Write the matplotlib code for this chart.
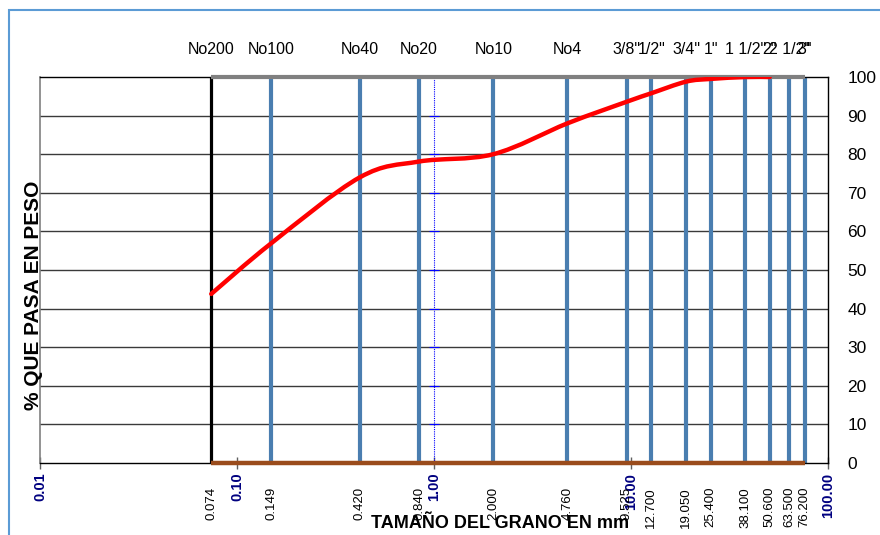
import numpy as np
import matplotlib
matplotlib.use("Agg")
import matplotlib.pyplot as plt
from matplotlib.path import Path
from matplotlib.patches import PathPatch, Rectangle
from matplotlib.transforms import blended_transform_factory

plt.rcParams['font.family'] = ['Liberation Sans', 'DejaVu Sans']

# ---- data ----
sieve_names = ['No200', 'No100', 'No40', 'No20', 'No10', 'No4', '3/8"', '1/2"',
               '3/4"', '1"', '1 1/2"', '2"', '2 1/2"', '3"']
sieve_sizes = [0.074, 0.149, 0.420, 0.840, 2.000, 4.760, 9.525, 12.700,
               19.050, 25.400, 38.100, 50.600, 63.500, 76.200]
size_labels = ['0.074', '0.149', '0.420', '0.840', '2.000', '4.760', '9.525', '12.700',
               '19.050', '25.400', '38.100', '50.600', '63.500', '76.200']
curve_sizes = [0.074, 0.149, 0.420, 0.840, 2.000, 4.760, 9.525, 12.700,
               19.050, 25.400, 38.100, 50.600]
pct_passing = [43.8, 56.9, 74.0, 78.1, 80.0, 88.0, 93.6, 95.8,
               98.8, 99.5, 100.0, 100.0]
main_ticks = [0.01, 0.1, 1.0, 10.0, 100.0]
main_tick_labels = ['0.01', '0.10', '1.00', '10.00', '100.00']
y_ticks = [0, 10, 20, 30, 40, 50, 60, 70, 80, 90, 100]
ref_x = 1.0

W, H = 880, 535
fig = plt.figure(figsize=(W / 100, H / 100), dpi=100)
ax = fig.add_axes([40 / W, 1 - 463 / H, (828 - 40) / W, (463 - 77) / H])
ax.set_xscale('log')
ax.set_xlim(main_ticks[0], main_ticks[-1])
ax.set_ylim(y_ticks[0], y_ticks[-1])
ax.minorticks_off()

# horizontal gridlines
for yv in y_ticks[1:-1]:
    ax.axhline(yv, color='#3a3a3a', lw=1.0, zorder=1)

# blue sieve lines
for s in sieve_sizes[1:]:
    ax.axvline(s, color='#4A7EB0', lw=3.0, zorder=2)
# black No200 line
ax.axvline(sieve_sizes[0], color='black', lw=2.3, zorder=3)

# reference dotted line at 1.00
ax.plot([ref_x] * len(y_ticks), y_ticks, color='blue', ls=(0, (1, 1)), lw=0.8,
        marker='_', ms=7, mew=0.8, zorder=3, clip_on=False)

# top gray and bottom brown lines
ax.plot([sieve_sizes[0], sieve_sizes[-1]], [y_ticks[-1]] * 2, color='#808080', lw=3,
        solid_capstyle='butt', zorder=4, clip_on=False)
ax.plot([sieve_sizes[0], sieve_sizes[-1]], [y_ticks[0]] * 2, color='#9A4C1C', lw=3.2,
        solid_capstyle='butt', zorder=6, clip_on=False)

# smooth curve (Bezier through the points, in log-x space)
u = np.log10(curve_sizes)
v = np.array(pct_passing)
P = np.column_stack([u, v])
n = len(P)
verts = [P[0]]
codes = [Path.MOVETO]
for i in range(n - 1):
    p0 = P[i - 1] if i > 0 else P[i]
    p1 = P[i]
    p2 = P[i + 1]
    p3 = P[i + 2] if i + 2 < n else P[i + 1]
    c1 = p1 + (p2 - p0) / 6.0
    c2 = p2 - (p3 - p1) / 6.0
    verts += [c1, c2, p2]
    codes += [Path.CURVE4] * 3
verts = np.array(verts)
verts[:, 0] = 10 ** verts[:, 0]
patch = PathPatch(Path(verts, codes), fill=False, edgecolor='#FF0000', lw=3.2,
                  capstyle='round', joinstyle='round', zorder=5)
ax.add_patch(patch)

# spines
for side in ['top', 'right', 'bottom']:
    ax.spines[side].set_color('black')
    ax.spines[side].set_linewidth(1.0)
ax.spines['left'].set_color('#808080')
ax.spines['left'].set_linewidth(1.2)

# x ticks
ax.set_xticks(main_ticks)
ax.set_xticklabels(main_tick_labels, rotation=90, fontsize=10.5, fontweight='bold',
                   color='#000080')
ax.tick_params(axis='x', direction='inout', length=8, width=1, color='#606060', pad=3)

# y ticks on right
ax.yaxis.tick_right()
ax.set_yticks(y_ticks)
ax.set_yticklabels([str(t) for t in y_ticks], fontsize=12.5)
ax.tick_params(axis='y', length=0, pad=14)

# sieve name labels (top) and size labels (bottom)
trans = blended_transform_factory(ax.transData, ax.transAxes)
for s, name, lab in zip(sieve_sizes, sieve_names, size_labels):
    ax.text(s, 1.07, name, transform=trans, ha='center', va='center', fontsize=11.5)
    ax.text(s, -0.062, lab, transform=trans, ha='center', va='top', rotation=90,
            fontsize=9.5)

# axis titles
fig.text(34 / W, 1 - 295 / H, '% QUE PASA EN PESO', rotation=90, ha='center',
         va='center', fontsize=15, fontweight='bold')
fig.text(500 / W, 1 - 523 / H, 'TAMAÑO DEL GRANO EN mm', ha='center', va='center',
         fontsize=13, fontweight='bold')

# outer frame
fig.patches.append(Rectangle((9 / W, -0.05), 1.1, 1 - 10 / H + 0.05,
                             transform=fig.transFigure, fill=False,
                             edgecolor='#5B9BD5', lw=1.5))

fig.savefig('out.png', dpi=100)
